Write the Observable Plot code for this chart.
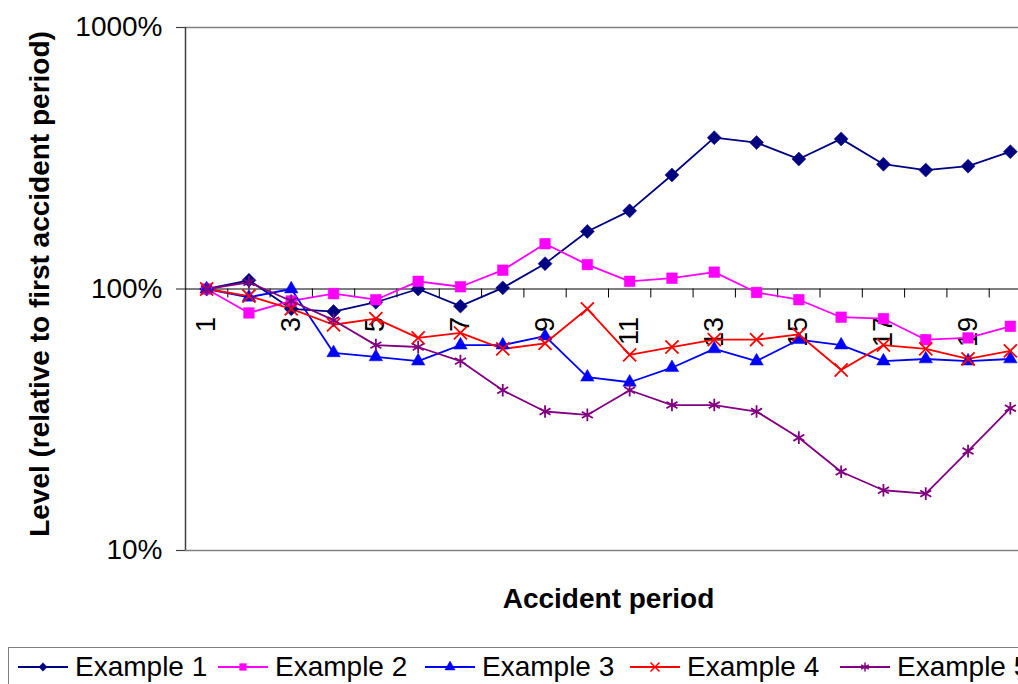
<!DOCTYPE html>
<html>
<head>
<meta charset="utf-8">
<script src="https://cdn.jsdelivr.net/npm/d3@7"></script>
<script src="https://cdn.jsdelivr.net/npm/@observablehq/plot@0.6"></script>
<style>
  html, body { margin: 0; padding: 0; background: #fff; overflow: hidden; width: 1018px; height: 684px; }
  #chart { position: relative; width: 1018px; height: 684px; overflow: hidden; font-family: "Liberation Sans", Arial, sans-serif; }
  #chart > svg { max-width: none !important; }
  #legend { position: absolute; left: 8px; top: 647px; width: 1100px; height: 60px; border: 1px solid #808080; box-sizing: border-box; }
  .item { position: absolute; top: 3px; display: flex; align-items: center; font-size: 28px; color: #000; white-space: nowrap; }
  .item svg { margin-right: 7px; }
</style>
</head>
<body>
<div id="chart"></div>
<script>
// ---- data ----
const periods = d3.range(1, 21);
const seriesNames = ["Example 1", "Example 2", "Example 3", "Example 4", "Example 5"];
const example1 = [100, 108, 84, 82, 89, 100, 86, 101, 125, 166, 199, 273, 379, 363, 314, 375, 300, 285, 295, 335];
const example2 = [100, 81, 90, 96, 91, 107, 102, 118, 149, 124, 107, 110, 116, 97, 91, 78, 77, 64, 65, 72];
const example3 = [100, 93, 100, 57, 55, 53, 61, 61, 66, 46, 44, 50, 59, 53, 64, 61, 53, 54, 53, 54];
const example4 = [100, 94, 84, 73, 77, 65, 68, 59, 62, 84, 56, 60, 64, 64, 67, 49, 61, 59, 54, 58];
const example5 = [100, 106, 90, 76, 61, 60, 53, 41, 34, 33, 41, 36, 36, 34, 27, 20, 17, 16.5, 24, 35];
const yTicks = [10, 100, 1000];
const xTickLabels = [1, 3, 5, 7, 9, 11, 13, 15, 17, 19];
const xBoundaries = d3.range(1.5, 21, 1);
const yTitle = "Level (relative to first accident period)";
const xTitle = "Accident period";

const seriesValues = [example1, example2, example3, example4, example5];
const styles = [
  {color: "#000080", symbol: "diamond2", filled: true, r: 6.3},
  {color: "#FF00FF", symbol: "square", filled: true, r: 6},
  {color: "#0000FF", symbol: "triangle", filled: true, r: 5},
  {color: "#FF0000", symbol: "times", filled: false, r: 6},
  {color: "#800080", symbol: "asterisk", filled: false, r: 6}
];

const rows = seriesNames.map((name, s) => periods.map((p, i) => ({series: name, period: p, value: seriesValues[s][i]})));

const marks = [
  Plot.ruleY([1000], {stroke: "#808080", strokeWidth: 1.5}),
  Plot.ruleY([10], {stroke: "#808080", strokeWidth: 1.5}),
  Plot.ruleX([0.5], {stroke: "#404040", strokeWidth: 1.5}),
  Plot.ruleY([100], {stroke: "#000", strokeWidth: 1.2}),
  Plot.ruleX(xBoundaries, {y1: 100, y2: 100, insetBottom: -9, stroke: "#000", strokeWidth: 1}),
  Plot.axisY({ticks: yTicks, tickFormat: d => d + "%", tickSize: 9, tickPadding: 14, fontSize: 28, stroke: "#404040", label: null, strokeWidth: 1.2}),
  Plot.text(xTickLabels, {x: d => d, y: () => 100, text: d => String(d), rotate: -90, textAnchor: "end", dy: 28, fontSize: 27, fill: "#000"}),
  Plot.text([yTitle], {frameAnchor: "left", textAnchor: "middle", dx: -145, dy: -5, rotate: -90, fontSize: 28, fontWeight: "bold", fill: "#000"}),
  Plot.text([xTitle], {frameAnchor: "bottom", textAnchor: "middle", dy: 57, fontSize: 28, fontWeight: "bold", fill: "#000"})
];

rows.forEach((data, s) => {
  const st = styles[s];
  marks.push(Plot.line(data, {x: "period", y: "value", stroke: st.color, strokeWidth: 1.8}));
});
rows.forEach((data, s) => {
  const st = styles[s];
  marks.push(Plot.dot(data, {
    x: "period", y: "value", symbol: st.symbol, r: st.r,
    fill: st.filled ? st.color : "none",
    stroke: st.color, strokeWidth: st.filled ? 0.5 : 1.8
  }));
});

const plot = Plot.plot({
  width: 1040,
  height: 640,
  marginLeft: 185,
  marginRight: 9,
  marginTop: 27,
  marginBottom: 90,
  style: {fontFamily: "'Liberation Sans', Arial, sans-serif", background: "#fff", overflow: "visible", maxWidth: "none"},
  x: {type: "linear", domain: [0.5, 20.5], axis: null},
  y: {type: "log", domain: [10, 1000], axis: null},
  marks
});
plot.style.position = "absolute";
plot.style.left = "0px";
plot.style.top = "0px";
plot.style.maxWidth = "none";

const chart = document.getElementById("chart");
chart.appendChild(plot);

// legend
const legend = document.createElement("div");
legend.id = "legend";
const lefts = [9, 209, 416, 621, 831];
const symMap = {diamond2: d3.symbolDiamond2, square: d3.symbolSquare, triangle: d3.symbolTriangle, times: d3.symbolTimes, asterisk: d3.symbolAsterisk};
seriesNames.forEach((name, s) => {
  const st = styles[s];
  const item = document.createElement("div");
  item.className = "item";
  item.style.left = lefts[s] + "px";
  const path = d3.symbol(symMap[st.symbol], st.filled ? 45 : 55)();
  item.innerHTML = `<svg width="50" height="30"><line x1="0" y1="15" x2="50" y2="15" stroke="${st.color}" stroke-width="1.8"/>` +
    `<path d="${path}" transform="translate(25,15)" fill="${st.filled ? st.color : "none"}" stroke="${st.color}" stroke-width="${st.filled ? 0.5 : 1.5}"/></svg>` +
    `<span>${name}</span>`;
  legend.appendChild(item);
});
chart.appendChild(legend);
</script>
</body>
</html>
